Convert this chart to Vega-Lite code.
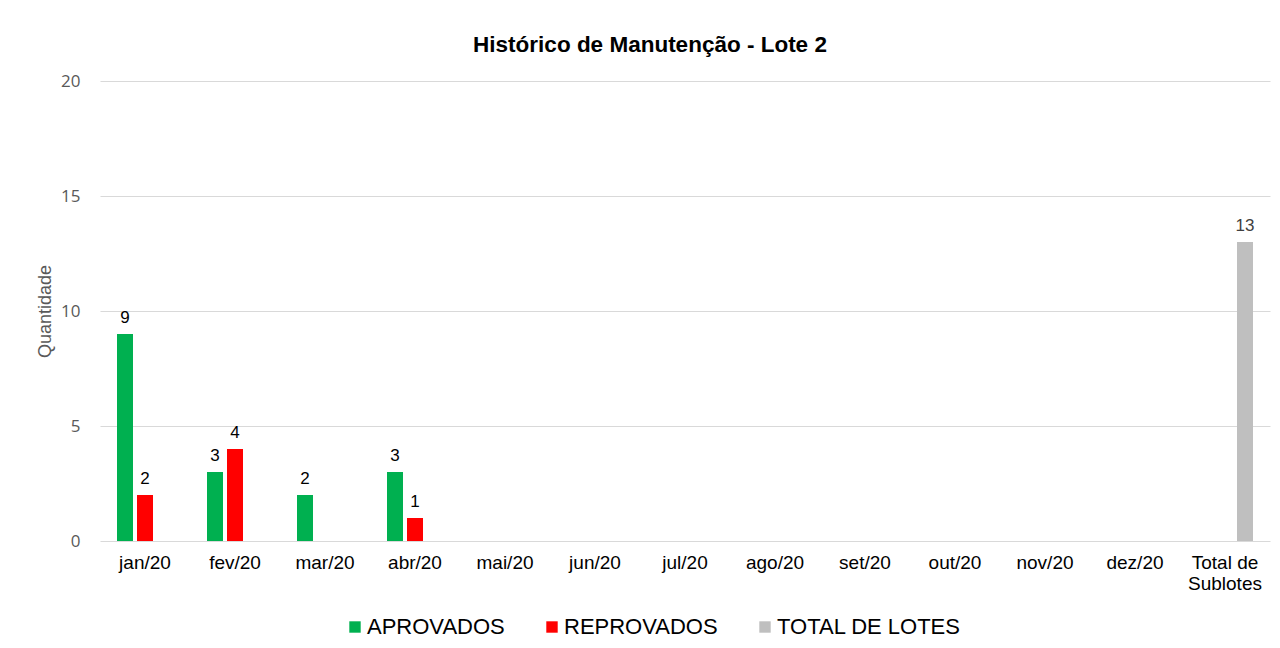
{
  "$schema": "https://vega.github.io/schema/vega-lite/v6.json",
  "width": 1170,
  "height": 460,
  "autosize": {"type": "none"},
  "padding": {"left": 100, "top": 81, "right": 10, "bottom": 107},
  "background": "white",
  "config": {
    "view": {"stroke": null},
    "font": "Liberation Sans"
  },
  "title": {
    "text": "Histórico de Manutenção - Lote 2",
    "font": "Liberation Sans",
    "fontSize": 22.5,
    "fontWeight": "bold",
    "color": "#000000",
    "anchor": "middle",
    "dx": -35,
    "offset": 16
  },
  "data": {
    "values": [
      {"mes": "jan/20", "serie": "APROVADOS", "qtd": 9},
      {"mes": "jan/20", "serie": "REPROVADOS", "qtd": 2},
      {"mes": "fev/20", "serie": "APROVADOS", "qtd": 3},
      {"mes": "fev/20", "serie": "REPROVADOS", "qtd": 4},
      {"mes": "mar/20", "serie": "APROVADOS", "qtd": 2},
      {"mes": "abr/20", "serie": "APROVADOS", "qtd": 3},
      {"mes": "abr/20", "serie": "REPROVADOS", "qtd": 1},
      {"mes": "Total de Sublotes", "serie": "TOTAL DE LOTES", "qtd": 13}
    ]
  },
  "encoding": {
    "x": {
      "field": "mes",
      "type": "nominal",
      "sort": null,
      "scale": {
        "domain": ["jan/20", "fev/20", "mar/20", "abr/20", "mai/20", "jun/20", "jul/20", "ago/20", "set/20", "out/20", "nov/20", "dez/20", "Total de Sublotes"],
        "paddingInner": 0.3333,
        "paddingOuter": 0.1667
      },
      "axis": {
        "title": null,
        "labelAngle": 0,
        "domain": false,
        "ticks": false,
        "labelPadding": 12,
        "labelFont": "Liberation Sans",
        "labelFontSize": 19,
        "labelColor": "#000000",
        "labelBaseline": "top",
        "labelLineHeight": 21,
        "labelExpr": "datum.label == 'Total de Sublotes' ? ['Total de', 'Sublotes'] : datum.label"
      }
    },
    "xOffset": {
      "field": "serie",
      "type": "nominal",
      "scale": {
        "domain": ["APROVADOS", "REPROVADOS", "TOTAL DE LOTES"],
        "paddingInner": 0.2,
        "paddingOuter": 0.1
      }
    },
    "y": {
      "field": "qtd",
      "type": "quantitative",
      "scale": {"domain": [0, 20]},
      "axis": {
        "title": "Quantidade",
        "titleFont": "Liberation Sans",
        "titleFontSize": 18,
        "titleFontWeight": "normal",
        "titleColor": "#595959",
        "titlePadding": 6,
        "values": [0, 5, 10, 15, 20],
        "domain": false,
        "ticks": false,
        "labelPadding": 20,
        "labelFont": "Open Sans",
        "labelFontSize": 17,
        "labelColor": "#595959",
        "gridColor": "#d9d9d9",
        "gridWidth": 1
      }
    }
  },
  "layer": [
    {
      "mark": {"type": "bar"},
      "encoding": {
        "color": {
          "field": "serie",
          "type": "nominal",
          "scale": {
            "domain": ["APROVADOS", "REPROVADOS", "TOTAL DE LOTES"],
            "range": ["#00B050", "#FF0000", "#BFBFBF"]
          },
          "legend": {
            "title": null,
            "orient": "none",
            "direction": "horizontal",
            "legendX": 244,
            "legendY": 535,
            "symbolType": "square",
            "symbolSize": 130,
            "symbolStrokeWidth": 0,
            "labelFont": "Liberation Sans",
            "labelFontSize": 22,
            "labelColor": "#000000",
            "labelOffset": 1,
            "labelLimit": 400,
            "columnPadding": 36
          }
        }
      }
    },
    {
      "mark": {"type": "text", "baseline": "bottom", "dy": -7, "font": "Liberation Sans", "fontSize": 17},
      "encoding": {
        "text": {"field": "qtd", "type": "quantitative"},
        "color": {
          "condition": {"test": "datum.serie == 'TOTAL DE LOTES'", "value": "#404040"},
          "value": "#000000"
        }
      }
    }
  ]
}
